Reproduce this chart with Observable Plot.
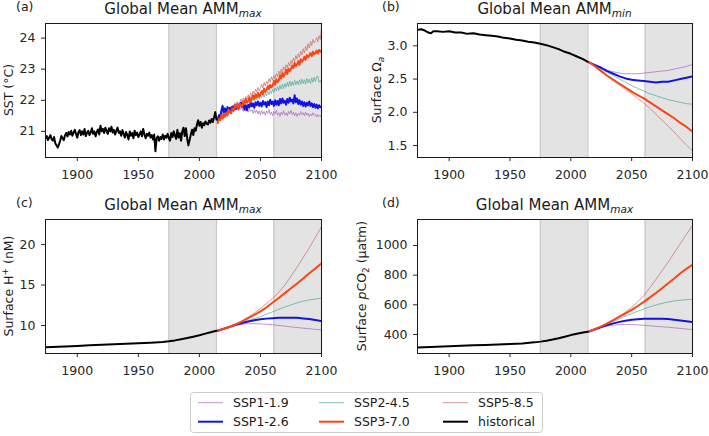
<!DOCTYPE html>
<html>
<head>
<meta charset="utf-8">
<script src="https://cdn.jsdelivr.net/npm/d3@7"></script>
<script src="https://cdn.jsdelivr.net/npm/@observablehq/plot@0.6"></script>
<style>
  body { margin: 0; background: #fff; }
  #fig { position: relative; width: 709px; height: 436px; overflow: hidden; font-family: "DejaVu Sans", sans-serif; }
  #fig > svg { position: absolute; }
</style>
</head>
<body>
<div id="fig"></div>
<script>
// ---- shared axis settings ----
const xTicks = [1900, 1950, 2000, 2050, 2100];
const refPeriods = [{start: 1975, end: 2014}, {start: 2061, end: 2100}];
const scenarios = ["SSP1-1.9", "SSP1-2.6", "SSP2-4.5", "SSP3-7.0", "SSP5-8.5"];

// ---- (a) SST, annual values ----
const sstHistStart = 1874;
const sstHist = [
  20.78, 20.85, 20.72, 20.80, 20.88, 20.75, 20.70, 20.82, 20.62, 20.55,
  20.48, 20.58, 20.70, 20.85, 20.78, 20.72, 20.88, 20.95, 20.84, 20.98,
  20.90, 21.02, 20.86, 20.96, 21.05, 20.92, 20.80, 20.98, 21.04, 20.88,
  21.00, 20.90, 21.08, 20.85, 20.95, 21.02, 20.88, 20.96, 21.10, 20.92,
  21.00, 20.84, 20.98, 21.06, 20.90, 21.18, 21.00, 21.08, 20.95, 21.12,
  21.02, 20.92, 21.10, 21.00, 21.15, 20.96, 21.05, 20.90, 21.02, 21.12,
  20.95, 21.00, 20.86, 21.04, 20.92, 20.80, 20.98, 20.88, 20.74, 21.00,
  20.86, 20.95, 20.78, 21.02, 20.88, 20.96, 20.82, 20.90, 21.00, 20.84,
  21.08, 20.90, 20.78, 20.92, 20.86, 20.96, 20.80, 20.88, 20.74, 20.90,
  20.36, 20.78, 20.84, 20.70, 20.82, 20.76, 20.90, 20.74, 20.86, 20.80,
  20.92, 20.78, 20.70, 20.95, 20.82, 21.00, 20.86, 20.76, 21.05, 20.80,
  20.94, 20.70, 21.00, 21.12, 20.85, 21.10, 20.78, 20.55, 20.72, 20.90,
  21.05, 20.88, 21.10, 21.02, 21.22, 21.36, 21.18, 21.30, 21.12, 21.26,
  21.20, 21.32, 21.25, 21.22, 21.35, 21.28, 21.40, 21.30, 21.45, 21.62, 21.38
];
const sspStart = 2015;
const sstSSP119 = [
  21.38, 21.50, 21.58, 21.48, 21.66, 21.56, 21.70, 21.60, 21.72, 21.62,
  21.74, 21.64, 21.76, 21.66, 21.78, 21.68, 21.76, 21.66, 21.78, 21.70,
  21.74, 21.64, 21.76, 21.66, 21.72, 21.62, 21.74, 21.64, 21.70, 21.58,
  21.70, 21.60, 21.68, 21.56, 21.66, 21.54, 21.68, 21.56, 21.64, 21.52,
  21.66, 21.58, 21.70, 21.54, 21.62, 21.50, 21.64, 21.56, 21.68, 21.52,
  21.60, 21.48, 21.62, 21.54, 21.66, 21.52, 21.60, 21.50, 21.64, 21.56,
  21.68, 21.54, 21.62, 21.50, 21.60, 21.48, 21.58, 21.52, 21.64, 21.54,
  21.60, 21.50, 21.62, 21.52, 21.58, 21.48, 21.56, 21.50, 21.60, 21.52,
  21.56, 21.46, 21.54, 21.48, 21.52, 21.46
];
const sstSSP126 = [
  21.35, 21.52, 21.44, 21.66, 21.82, 21.62, 21.74, 21.60, 21.78, 21.68,
  21.76, 21.64, 21.80, 21.70, 21.84, 21.72, 21.86, 21.74, 21.82, 21.92,
  21.78, 21.88, 21.70, 21.84, 21.68, 21.86, 21.78, 21.92, 21.80, 21.90,
  21.76, 21.94, 21.84, 21.96, 21.82, 21.92, 21.80, 21.98, 21.86, 21.94,
  21.78, 21.96, 21.84, 22.02, 21.88, 21.96, 21.82, 22.00, 21.86, 21.98,
  21.84, 22.04, 21.90, 22.06, 21.92, 21.98, 21.86, 22.04, 21.92, 22.08,
  21.96, 22.02, 21.90, 22.16, 21.94, 22.06, 21.88, 22.00, 21.86, 21.96,
  21.82, 21.94, 21.80, 21.92, 21.84, 21.96, 21.82, 21.90, 21.78, 21.88,
  21.76, 21.86, 21.74, 21.84, 21.78, 21.80
];
const sstSSP245 = [
  21.30, 21.44, 21.38, 21.55, 21.46, 21.62, 21.52, 21.66, 21.58, 21.72,
  21.64, 21.76, 21.68, 21.80, 21.72, 21.84, 21.76, 21.88, 21.80, 21.92,
  21.84, 21.94, 21.86, 21.98, 21.90, 22.00, 21.92, 22.04, 21.96, 22.08,
  21.98, 22.10, 22.02, 22.14, 22.04, 22.16, 22.08, 22.20, 22.10, 22.24,
  22.14, 22.28, 22.18, 22.32, 22.22, 22.36, 22.26, 22.40, 22.30, 22.44,
  22.32, 22.48, 22.36, 22.52, 22.38, 22.54, 22.42, 22.58, 22.44, 22.62,
  22.46, 22.60, 22.48, 22.64, 22.50, 22.62, 22.50, 22.66, 22.52, 22.68,
  22.54, 22.66, 22.52, 22.70, 22.56, 22.68, 22.54, 22.72, 22.58, 22.74,
  22.60, 22.76, 22.78, 22.58, 22.64, 22.55
];
const sstSSP370 = [
  21.27, 21.40, 21.36, 21.52, 21.41, 21.55, 21.47, 21.60, 21.51, 21.70,
  21.62, 21.58, 21.74, 21.66, 21.83, 21.76, 21.88, 21.72, 21.90, 21.84,
  21.80, 21.97, 21.88, 22.04, 21.92, 21.98, 22.10, 21.95, 22.08, 22.16,
  22.03, 22.19, 22.10, 22.24, 22.12, 22.18, 22.30, 22.20, 22.38, 22.27,
  22.33, 22.46, 22.36, 22.50, 22.41, 22.47, 22.62, 22.50, 22.68, 22.58,
  22.64, 22.80, 22.70, 22.88, 22.76, 22.86, 22.98, 22.84, 23.02, 22.94,
  23.00, 23.12, 23.04, 23.20, 23.10, 23.16, 23.26, 23.14, 23.32, 23.24,
  23.30, 23.40, 23.30, 23.46, 23.38, 23.44, 23.52, 23.42, 23.56, 23.48,
  23.52, 23.60, 23.50, 23.62, 23.56, 23.60
];
const sstSSP585 = [
  21.32, 21.45, 21.52, 21.40, 21.60, 21.50, 21.66, 21.56, 21.62, 21.76,
  21.64, 21.80, 21.72, 21.78, 21.92, 21.80, 21.96, 21.86, 21.92, 22.04,
  21.94, 22.08, 21.98, 22.12, 22.04, 22.18, 22.08, 22.24, 22.14, 22.30,
  22.20, 22.36, 22.26, 22.42, 22.30, 22.40, 22.52, 22.40, 22.58, 22.46,
  22.62, 22.52, 22.70, 22.58, 22.76, 22.64, 22.80, 22.70, 22.86, 22.76,
  22.94, 22.82, 23.00, 22.90, 23.08, 22.98, 23.14, 23.04, 23.22, 23.10,
  23.28, 23.18, 23.36, 23.24, 23.44, 23.32, 23.50, 23.38, 23.58, 23.46,
  23.66, 23.52, 23.74, 23.60, 23.82, 23.68, 23.90, 23.76, 23.96, 23.84,
  23.92, 24.02, 23.88, 24.08, 23.96, 24.32
];

// ---- (b) surface aragonite saturation ----
const omegaHistYears = [1874, 1877, 1880, 1883, 1885, 1887, 1890, 1895, 1900, 1905, 1910, 1915, 1920, 1925, 1930, 1935,
  1940, 1945, 1950, 1955, 1960, 1965, 1970, 1975, 1980, 1985, 1990, 1995, 2000, 2005, 2010, 2014];
const omegaHist = [3.24, 3.25, 3.23, 3.20, 3.19, 3.22, 3.22, 3.21, 3.22, 3.20, 3.20, 3.18, 3.19, 3.17, 3.16, 3.15,
  3.14, 3.12, 3.11, 3.09, 3.08, 3.06, 3.05, 3.03, 3.01, 2.98, 2.95, 2.91, 2.88, 2.84, 2.80, 2.76];
// scenario values every 5 years, 2015-2100
const omegaSSP119 = [2.75, 2.71, 2.67, 2.63, 2.61, 2.59, 2.58, 2.58, 2.58, 2.59, 2.60, 2.61, 2.62, 2.63, 2.65, 2.67, 2.69, 2.72];
const omegaSSP126 = [2.75, 2.71, 2.67, 2.62, 2.58, 2.54, 2.51, 2.49, 2.48, 2.47, 2.46, 2.45, 2.46, 2.46, 2.48, 2.50, 2.52, 2.54];
const omegaSSP245 = [2.75, 2.70, 2.65, 2.60, 2.55, 2.50, 2.45, 2.40, 2.36, 2.32, 2.28, 2.25, 2.22, 2.19, 2.17, 2.15, 2.13, 2.12];
const omegaSSP370 = [2.75, 2.69, 2.62, 2.55, 2.49, 2.43, 2.37, 2.31, 2.26, 2.21, 2.15, 2.09, 2.03, 1.97, 1.91, 1.84, 1.78, 1.71];
const omegaSSP585 = [2.75, 2.68, 2.61, 2.54, 2.47, 2.41, 2.34, 2.28, 2.21, 2.14, 2.06, 1.97, 1.88, 1.79, 1.70, 1.60, 1.51, 1.42];

// ---- (c) surface H+ and (d) surface pCO2 ----
const chemHistYears = [1874, 1890, 1900, 1910, 1920, 1930, 1940, 1950, 1960, 1970, 1975, 1980, 1985, 1990, 1995, 2000, 2005, 2010, 2014];
const hplusHist = [7.32, 7.42, 7.48, 7.55, 7.62, 7.68, 7.74, 7.80, 7.87, 7.97, 8.05, 8.16, 8.30, 8.45, 8.62, 8.80, 9.00, 9.20, 9.35];
const hplusSSP119 = [9.35, 9.60, 9.85, 10.03, 10.15, 10.22, 10.22, 10.20, 10.15, 10.08, 10.00, 9.92, 9.83, 9.75, 9.67, 9.60, 9.52, 9.46];
const hplusSSP126 = [9.35, 9.60, 9.85, 10.10, 10.30, 10.50, 10.65, 10.77, 10.85, 10.90, 10.95, 10.97, 10.97, 10.95, 10.88, 10.80, 10.68, 10.55];
const hplusSSP245 = [9.35, 9.60, 9.85, 10.10, 10.35, 10.60, 10.85, 11.10, 11.40, 11.70, 12.00, 12.30, 12.55, 12.80, 13.00, 13.15, 13.28, 13.37];
const hplusSSP370 = [9.35, 9.60, 9.85, 10.15, 10.50, 10.90, 11.30, 11.75, 12.25, 12.85, 13.40, 14.00, 14.60, 15.20, 15.80, 16.45, 17.05, 17.70];
const hplusSSP585 = [9.35, 9.60, 9.87, 10.20, 10.60, 11.05, 11.55, 12.10, 12.70, 13.35, 14.10, 15.00, 16.10, 17.20, 18.40, 19.60, 20.90, 22.20];

const pco2Hist = [313, 318, 321, 324, 327, 330, 333, 336, 340, 347, 352, 358, 366, 375, 385, 396, 405, 413, 419];
const pco2SSP119 = [420, 434, 447, 457, 463, 467, 468, 467, 465, 462, 459, 455, 452, 449, 445, 441, 437, 433];
const pco2SSP126 = [420, 435, 450, 463, 475, 485, 493, 499, 503, 506, 507, 507, 506, 504, 500, 495, 490, 484];
const pco2SSP245 = [420, 436, 452, 470, 488, 506, 524, 541, 557, 572, 586, 599, 610, 619, 626, 631, 635, 637];
const pco2SSP370 = [420, 437, 455, 475, 497, 520, 543, 566, 592, 620, 650, 680, 712, 745, 778, 813, 842, 870];
const pco2SSP585 = [420, 437, 456, 477, 500, 525, 552, 583, 620, 662, 715, 772, 830, 888, 950, 1012, 1075, 1135];

// ---- line styles ----
const lineStyle = {
  "SSP1-1.9": {stroke: "#a865b9", strokeWidth: 1, strokeOpacity: 0.7},
  "SSP1-2.6": {stroke: "#1212e4", strokeWidth: 2},
  "SSP2-4.5": {stroke: "#4fa795", strokeWidth: 1, strokeOpacity: 0.7},
  "SSP3-7.0": {stroke: "#fa4616", strokeWidth: 2},
  "SSP5-8.5": {stroke: "#c26d6a", strokeWidth: 1, strokeOpacity: 0.7},
  "historical": {stroke: "#000000", strokeWidth: 2}
};
const drawOrder = ["SSP1-1.9", "SSP2-4.5", "SSP5-8.5", "SSP1-2.6", "SSP3-7.0"];

const byStep = (start, step, values) => values.map((v, i) => ({year: start + i * step, value: v}));
const byYears = (years, values) => years.map((y, i) => ({year: y, value: values[i]}));

function panel({hist, ssp, yDomain, yTicks, yFormat, left, top, width, marginLeft, marginRight}) {
  const chart = Plot.plot({
    width, height: 192,
    marginLeft, marginRight, marginTop: 23, marginBottom: 35,
    style: {fontFamily: '"DejaVu Sans", sans-serif', fontSize: "12.5px", color: "#262626", background: "transparent", overflow: "visible"},
    x: {domain: [1874, 2100]},
    y: {domain: yDomain},
    marks: [
      Plot.rect(refPeriods, {x1: "start", x2: "end", fill: "#e3e3e3"}),
      Plot.ruleX(refPeriods.flatMap(d => [d.start, d.end]), {stroke: "#c9c9c9", strokeWidth: 1.2}),
      ...drawOrder.map(k => Plot.line(ssp[k], {x: "year", y: "value", ...lineStyle[k], clip: true})),
      Plot.line(hist, {x: "year", y: "value", ...lineStyle.historical, clip: true}),
      Plot.frame({stroke: "#1a1a1a", strokeWidth: 1}),
      Plot.axisX({ticks: xTicks, tickSize: 4, tickPadding: 9, label: null, tickFormat: d3.format("d")}),
      Plot.axisY({ticks: yTicks, tickSize: 4, tickPadding: 6, label: null, tickFormat: yFormat})
    ]
  });
  chart.style.left = left + "px";
  chart.style.top = top + "px";
  document.getElementById("fig").appendChild(chart);
}

panel({
  hist: byStep(sstHistStart, 1, sstHist),
  ssp: {
    "SSP1-1.9": byStep(sspStart, 1, sstSSP119), "SSP1-2.6": byStep(sspStart, 1, sstSSP126),
    "SSP2-4.5": byStep(sspStart, 1, sstSSP245), "SSP3-7.0": byStep(sspStart, 1, sstSSP370),
    "SSP5-8.5": byStep(sspStart, 1, sstSSP585)
  },
  yDomain: [20.16, 24.47], yTicks: [21, 22, 23, 24], yFormat: d3.format("d"),
  left: 0, top: 0, width: 354, marginLeft: 45, marginRight: 33
});
panel({
  hist: byYears(omegaHistYears, omegaHist),
  ssp: {
    "SSP1-1.9": byStep(sspStart, 5, omegaSSP119), "SSP1-2.6": byStep(sspStart, 5, omegaSSP126),
    "SSP2-4.5": byStep(sspStart, 5, omegaSSP245), "SSP3-7.0": byStep(sspStart, 5, omegaSSP370),
    "SSP5-8.5": byStep(sspStart, 5, omegaSSP585)
  },
  yDomain: [1.32, 3.336], yTicks: [1.5, 2.0, 2.5, 3.0], yFormat: d3.format(".1f"),
  left: 354, top: 0, width: 355, marginLeft: 63, marginRight: 17
});
panel({
  hist: byYears(chemHistYears, hplusHist),
  ssp: {
    "SSP1-1.9": byStep(sspStart, 5, hplusSSP119), "SSP1-2.6": byStep(sspStart, 5, hplusSSP126),
    "SSP2-4.5": byStep(sspStart, 5, hplusSSP245), "SSP3-7.0": byStep(sspStart, 5, hplusSSP370),
    "SSP5-8.5": byStep(sspStart, 5, hplusSSP585)
  },
  yDomain: [6.54, 23.1], yTicks: [10, 15, 20], yFormat: d3.format("d"),
  left: 0, top: 196, width: 354, marginLeft: 45, marginRight: 33
});
panel({
  hist: byYears(chemHistYears, pco2Hist),
  ssp: {
    "SSP1-1.9": byStep(sspStart, 5, pco2SSP119), "SSP1-2.6": byStep(sspStart, 5, pco2SSP126),
    "SSP2-4.5": byStep(sspStart, 5, pco2SSP245), "SSP3-7.0": byStep(sspStart, 5, pco2SSP370),
    "SSP5-8.5": byStep(sspStart, 5, pco2SSP585)
  },
  yDomain: [272, 1175], yTicks: [400, 600, 800, 1000], yFormat: d3.format("d"),
  left: 354, top: 196, width: 355, marginLeft: 63, marginRight: 17
});

// ---- titles, panel letters, axis labels and legend ----
const overlay = d3.select("#fig").append("svg")
  .attr("width", 709).attr("height", 436)
  .style("left", "0px").style("top", "0px")
  .attr("font-family", '"DejaVu Sans", sans-serif')
  .attr("fill", "#1a1a1a");

const titles = [
  {x: 183, y: 14, sub: "max", tag: "(a)", tx: 16, ty: 11},
  {x: 554.5, y: 14, sub: "min", tag: "(b)", tx: 382, ty: 11},
  {x: 183, y: 210, sub: "max", tag: "(c)", tx: 16, ty: 207},
  {x: 554.5, y: 210, sub: "max", tag: "(d)", tx: 382, ty: 207}
];
titles.forEach(t => {
  const txt = overlay.append("text").attr("x", t.x).attr("y", t.y)
    .attr("text-anchor", "middle").attr("font-size", 15);
  txt.append("tspan").text("Global Mean AMM");
  txt.append("tspan").attr("font-size", 10.5).attr("font-style", "italic").attr("dy", 3).text(t.sub);
  overlay.append("text").attr("x", t.tx).attr("y", t.ty).attr("font-size", 12.5).text(t.tag);
});

function yLabel(x, y, parts) {
  const txt = overlay.append("text")
    .attr("transform", `translate(${x},${y}) rotate(-90)`)
    .attr("text-anchor", "middle").attr("font-size", 12.5);
  parts.forEach(p => {
    const s = txt.append("tspan").text(p.t);
    if (p.size) s.attr("font-size", p.size);
    if (p.dy) s.attr("dy", p.dy);
    if (p.italic) s.attr("font-style", "italic");
  });
}
yLabel(12.7, 90, [{t: "SST (°C)"}]);
yLabel(381, 90, [{t: "Surface Ω"}, {t: "a", size: 9, dy: 2.5, italic: true}]);
yLabel(13.3, 286, [{t: "Surface H"}, {t: "+", size: 9, dy: -5}, {t: " (nM)", size: 12.5, dy: 5}]);
yLabel(366, 286, [{t: "Surface "}, {t: "p", italic: true}, {t: "CO"}, {t: "2", size: 9, dy: 2.5}, {t: " (µatm)", size: 12.5, dy: -2.5}]);

// legend box
const legend = overlay.append("g");
legend.append("rect").attr("x", 190.5).attr("y", 392.5).attr("width", 352).attr("height", 40)
  .attr("rx", 3).attr("fill", "#fff").attr("stroke", "#cccccc");
const legendItems = ["SSP1-1.9", "SSP1-2.6", "SSP2-4.5", "SSP3-7.0", "SSP5-8.5", "historical"];
const colX = [198, 319, 443];
const rowY = [402.7, 421.7];
legendItems.forEach((name, i) => {
  const cx = colX[Math.floor(i / 2)], cy = rowY[i % 2], st = lineStyle[name];
  legend.append("line").attr("x1", cx).attr("x2", cx + 25).attr("y1", cy).attr("y2", cy)
    .attr("stroke", st.stroke).attr("stroke-width", st.strokeWidth)
    .attr("stroke-opacity", st.strokeOpacity ?? 1);
  legend.append("text").attr("x", cx + 35).attr("y", cy + 4.5).attr("font-size", 12.5).text(name);
});
</script>
</body>
</html>
